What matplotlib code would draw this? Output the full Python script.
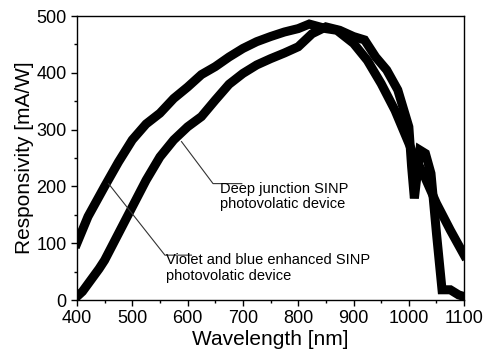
import matplotlib
matplotlib.use('Agg')
import matplotlib.pyplot as plt
from matplotlib.ticker import MultipleLocator

plt.rcParams['font.family'] = ['Liberation Sans', 'DejaVu Sans']

# violet and blue enhanced SINP device (upper curve at short wavelengths)
wl_violet = [400, 420, 450, 475, 500, 525, 550, 575, 600, 625, 650, 675, 700, 725, 750,
             775, 800, 820, 850, 870, 900, 925, 950, 975, 1000, 1010, 1025, 1040, 1050,
             1075, 1100]
resp_violet = [100, 147, 200, 243, 282, 310, 329, 355, 375, 397, 411, 428, 443, 455, 464,
               472, 478, 486, 478, 475, 452, 422, 381, 334, 276, 252, 225, 192, 170,
               123, 79]

# deep junction SINP device (lower curve at short wavelengths)
wl_deep = [400, 410, 425, 440, 450, 475, 500, 525, 550, 575, 600, 625, 650, 675, 700,
           725, 750, 775, 800, 825, 850, 875, 900, 920, 940, 960, 980, 1000, 1005,
           1010, 1020, 1030, 1040, 1050, 1060, 1075, 1090, 1100]
resp_deep = [6, 15, 35, 55, 70, 117, 164, 211, 252, 282, 305, 323, 352, 380, 399,
             414, 425, 435, 446, 469, 481, 475, 464, 458, 428, 405, 370, 305, 235,
             179, 264, 258, 223, 117, 18, 18, 9, 6]

fig = plt.figure(figsize=(4.84, 3.58), dpi=100)
ax = fig.add_axes([0.159, 0.162, 0.8, 0.793])

ax.plot(wl_violet, resp_violet, color='black', linewidth=6.5, solid_joinstyle='miter')
ax.plot(wl_deep, resp_deep, color='black', linewidth=6.5, solid_joinstyle='miter')

# leader lines for the labels
ax.plot([589, 646, 698], [279, 205, 205], color='#333333', linewidth=0.8)
ax.plot([457, 559, 607], [205, 79, 79], color='#333333', linewidth=0.8)
ax.text(659, 208, 'Deep junction SINP\nphotovolatic device', fontsize=10.5,
        va='top', ha='left', linespacing=1.1)
ax.text(561, 82, 'Violet and blue enhanced SINP\nphotovolatic device', fontsize=10.5,
        va='top', ha='left', linespacing=1.1)

ax.set_xlim(400, 1100)
ax.set_ylim(0, 500)
ax.xaxis.set_major_locator(MultipleLocator(100))
ax.xaxis.set_minor_locator(MultipleLocator(50))
ax.yaxis.set_major_locator(MultipleLocator(100))
ax.yaxis.set_minor_locator(MultipleLocator(50))
ax.tick_params(which='major', length=4, width=1, labelsize=13, direction='out')
ax.tick_params(which='minor', length=2.5, width=1, direction='out')
for s in ax.spines.values():
    s.set_linewidth(1)
ax.set_xlabel('Wavelength [nm]', fontsize=15, labelpad=2)
ax.set_ylabel('Responsivity [mA/W]', fontsize=15, labelpad=2)

fig.savefig('out.png', dpi=100)
